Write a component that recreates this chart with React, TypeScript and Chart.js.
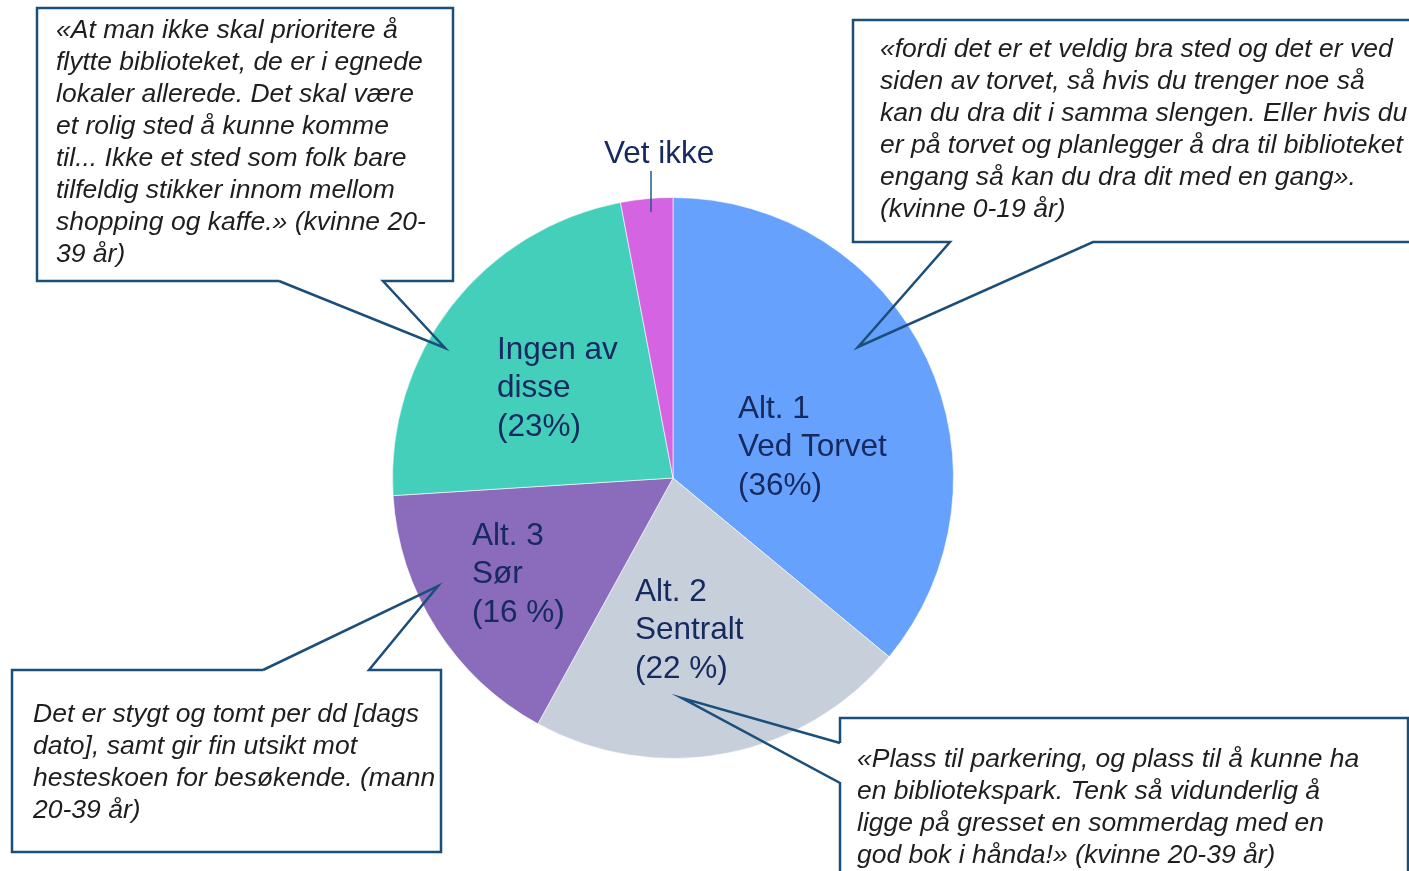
import React, { useEffect, useRef } from "react";
import { Chart, registerables } from "chart.js";

Chart.register(...registerables);

// ---- Data ----
const categories = ["Alt. 1 Ved Torvet", "Alt. 2 Sentralt", "Alt. 3 Sør", "Ingen av disse", "Vet ikke"];
const shares = [36, 22, 16, 23, 3];
const sliceColors = ["#66A2FD", "#C7D0DA", "#8B6BBC", "#44CFBA", "#D564E2"];
const sliceLabels = [
  ["Alt. 1", "Ved Torvet", "(36%)"],
  ["Alt. 2", "Sentralt", "(22 %)"],
  ["Alt. 3", "Sør", "(16 %)"],
  ["Ingen av", "disse", "(23%)"],
  ["Vet ikke"],
];
const quoteTopLeft = [
  "«At man ikke skal prioritere å",
  "flytte biblioteket, de er i egnede",
  "lokaler allerede. Det skal være",
  "et rolig sted å kunne komme",
  "til... Ikke et sted som folk bare",
  "tilfeldig stikker innom mellom",
  "shopping og kaffe.» (kvinne 20-",
  "39 år)",
];
const quoteTopRight = [
  "«fordi det er et veldig bra sted og det er ved",
  "siden av torvet, så hvis du trenger noe så",
  "kan du dra dit i samma slengen. Eller hvis du",
  "er på torvet og planlegger å dra til biblioteket",
  "engang så kan du dra dit med en gang».",
  "(kvinne 0-19 år)",
];
const quoteBottomLeft = [
  "Det er stygt og tomt per dd [dags",
  "dato], samt gir fin utsikt mot",
  "hesteskoen for besøkende. (mann",
  "20-39 år)",
];
const quoteBottomRight = [
  "«Plass til parkering, og plass til å kunne ha",
  "en bibliotekspark. Tenk så vidunderlig å",
  "ligge på gresset en sommerdag med en",
  "god bok i hånda!» (kvinne 20-39 år)",
];

// ---- Layout (positions of annotations) ----
const labelPos = [
  { x: 738, y: 409 },
  { x: 635, y: 592 },
  { x: 472, y: 536 },
  { x: 497, y: 350 },
  { x: 604, y: 154 },
];
const callouts = [
  {
    lines: quoteTopLeft,
    rect: { l: 37, t: 8, r: 453, b: 281 },
    path: [[279, 281], [37, 281], [37, 8], [453, 8], [453, 281], [383, 281], [445, 348], [279, 281]],
    tx: 56, ty: 31,
  },
  {
    lines: quoteTopRight,
    rect: { l: 853, t: 20, r: 1420, b: 242 },
    path: [[1420, 20], [853, 20], [853, 242], [950, 242], [858, 347], [1093, 242], [1420, 242]],
    tx: 880, ty: 50,
  },
  {
    lines: quoteBottomLeft,
    rect: { l: 12, t: 670, r: 441, b: 852 },
    path: [[263, 670], [12, 670], [12, 852], [441, 852], [441, 670], [369, 670], [438, 586], [263, 670]],
    tx: 33, ty: 715,
  },
  {
    lines: quoteBottomRight,
    rect: { l: 840, t: 718, r: 1408, b: 880 },
    path: [[840, 743], [840, 718], [1408, 718], [1408, 880]],
    path2: [[840, 880], [840, 783], [682, 698], [840, 743]],
    tx: 857, ty: 760,
  },
];

const annotationPlugin = {
  id: "annotations",
  afterDatasetsDraw(chart: any) {
    const ctx = chart.ctx as CanvasRenderingContext2D;
    ctx.save();
    // pie labels
    ctx.fillStyle = "#172A60";
    ctx.font = '31.5px "Liberation Sans", Arial, sans-serif';
    ctx.textBaseline = "middle";
    ctx.textAlign = "left";
    sliceLabels.forEach((lines, i) => {
      const p = labelPos[i];
      lines.forEach((ln, j) => ctx.fillText(ln, p.x, p.y + j * 38.5));
    });
    // Vet ikke leader line
    ctx.strokeStyle = "#1F5A8A";
    ctx.lineWidth = 1.5;
    ctx.beginPath();
    ctx.moveTo(651, 171);
    ctx.lineTo(651, 212);
    ctx.stroke();

    // callouts
    callouts.forEach((c: any) => {
      ctx.fillStyle = "#ffffff";
      ctx.fillRect(c.rect.l, c.rect.t, c.rect.r - c.rect.l, c.rect.b - c.rect.t);
      ctx.strokeStyle = "#1B4F7A";
      ctx.lineWidth = 2.5;
      ctx.lineJoin = "miter";
      [c.path, c.path2].forEach((pth: number[][] | undefined) => {
        if (!pth) return;
        ctx.beginPath();
        pth.forEach((pt, k) => (k === 0 ? ctx.moveTo(pt[0], pt[1]) : ctx.lineTo(pt[0], pt[1])));
        ctx.stroke();
      });
      ctx.fillStyle = "#1E1E1E";
      ctx.font = 'italic 26.5px "Liberation Sans", Arial, sans-serif';
      ctx.textBaseline = "middle";
      c.lines.forEach((ln: string, j: number) => ctx.fillText(ln, c.tx, c.ty + j * 32));
    });
    ctx.restore();
  },
};

export default function App() {
  const ref = useRef<HTMLCanvasElement | null>(null);
  useEffect(() => {
    if (!ref.current) return;
    const chart = new Chart(ref.current, {
      type: "pie",
      data: {
        labels: categories,
        datasets: [
          {
            data: shares,
            backgroundColor: sliceColors,
            borderColor: "rgba(255,255,255,0.6)",
            borderWidth: 1,
          },
        ],
      },
      options: {
        responsive: false,
        animation: false,
        devicePixelRatio: 1,
        layout: { padding: { left: 392, right: 455, top: 197, bottom: 112 } },
        plugins: { legend: { display: false }, tooltip: { enabled: false } },
      },
      plugins: [annotationPlugin],
    });
    return () => chart.destroy();
  }, []);
  return (
    <div style={{ position: "fixed", left: 0, top: 0, width: 1409, height: 871, background: "#fff" }}>
      <canvas ref={ref} width={1409} height={871} style={{ display: "block" }} />
    </div>
  );
}
